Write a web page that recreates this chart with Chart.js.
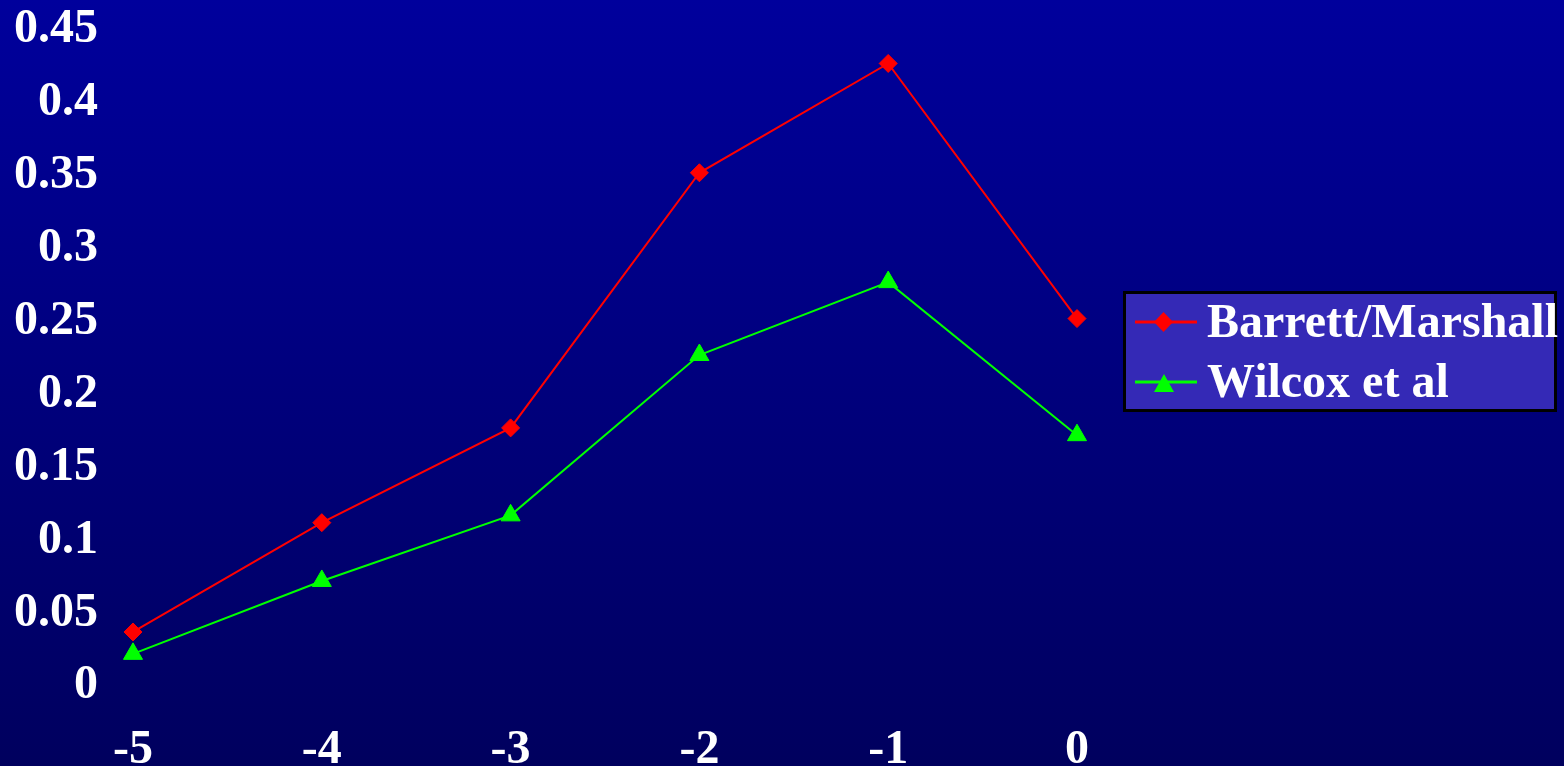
<!DOCTYPE html>
<html>
<head>
<meta charset="utf-8">
<script src="https://cdn.jsdelivr.net/npm/chart.js@4.4.1/dist/chart.umd.min.js"></script>
<style>
	html, body { margin: 0; padding: 0; overflow: hidden; background: #00007c; }
	#contenedor { width: 1564px; height: 766px; }
</style>
</head>
<body>
<div id="contenedor"><canvas id="grafica"></canvas></div>
<script>
const anios = [-5, -4, -3, -2, -1, 0];
const barrettMarshall = [0.035, 0.11, 0.175, 0.35, 0.425, 0.25];
const wilcox = [0.02, 0.07, 0.115, 0.225, 0.275, 0.17];
const etiquetas = ['Barrett/Marshall', 'Wilcox et al'];

const fuente = { family: '"Liberation Serif", "Times New Roman", serif', size: 48, weight: 'bold' };

// fondo degradado azul
const fondo = {
	id: 'fondo',
	beforeDraw(chart) {
		const ctx = chart.ctx;
		const grad = ctx.createLinearGradient(0, 0, 0, chart.height);
		grad.addColorStop(0, '#00009c');
		grad.addColorStop(1, '#00005e');
		ctx.save();
		ctx.fillStyle = grad;
		ctx.fillRect(0, 0, chart.width, chart.height);
		ctx.restore();
	},
};

// leyenda con linea y marcador
const leyenda = {
	id: 'leyenda',
	afterDraw(chart) {
		const ctx = chart.ctx;
		ctx.save();
		ctx.fillStyle = '#3429b6';
		ctx.fillRect(1123, 291, 434, 121);
		ctx.lineWidth = 3;
		ctx.strokeStyle = '#000000';
		ctx.strokeRect(1124.5, 292.5, 431, 118);

		const filas = [322, 382];
		chart.data.datasets.forEach((ds, i) => {
			const y = filas[i];
			ctx.strokeStyle = ds.borderColor;
			ctx.lineWidth = 3;
			ctx.beginPath();
			ctx.moveTo(1135, y);
			ctx.lineTo(1197, y);
			ctx.stroke();

			ctx.fillStyle = ds.borderColor;
			ctx.beginPath();
			if (ds.pointStyle === 'rectRot') {
				ctx.moveTo(1163.5, y - 10);
				ctx.lineTo(1173, y);
				ctx.lineTo(1163.5, y + 10);
				ctx.lineTo(1154, y);
			} else {
				ctx.moveTo(1164, y - 8);
				ctx.lineTo(1174, y + 10);
				ctx.lineTo(1154, y + 10);
			}
			ctx.closePath();
			ctx.fill();

			ctx.fillStyle = '#ffffff';
			ctx.font = 'bold 48px "Liberation Serif", "Times New Roman", serif';
			ctx.textBaseline = 'alphabetic';
			ctx.fillText(ds.label, 1207, y + 15);
		});
		ctx.restore();
	},
};

const sinRelleno = (scale) => {
	scale.paddingTop = 0;
	scale.paddingBottom = 0;
	scale.paddingLeft = 0;
	scale.paddingRight = 0;
};

const ctx = document.querySelector('#grafica');
const chart = new Chart(ctx, {
	type: 'line',
	data: {
		datasets: [
			{
				label: etiquetas[0],
				data: anios.map((a, i) => ({ x: a, y: barrettMarshall[i] })),
				borderColor: '#ff0000',
				backgroundColor: '#ff0000',
				borderWidth: 2,
				pointStyle: 'rectRot',
				pointRadius: 9,
				pointBorderWidth: 1,
				tension: 0,
				clip: false,
			},
			{
				label: etiquetas[1],
				data: anios.map((a, i) => ({ x: a, y: wilcox[i] })),
				borderColor: '#00ff00',
				backgroundColor: '#00ff00',
				borderWidth: 2,
				pointStyle: 'triangle',
				pointRadius: 11,
				pointBorderWidth: 1,
				tension: 0,
				clip: false,
			},
		],
	},
	options: {
		responsive: true,
		maintainAspectRatio: false,
		animation: false,
		layout: { padding: { top: 27, right: 487, left: 0, bottom: 0 } },
		plugins: {
			legend: { display: false },
			tooltip: { enabled: false },
		},
		scales: {
			x: {
				type: 'linear',
				min: -5,
				max: 0,
				grid: { display: false, drawTicks: false },
				border: { display: false },
				ticks: { stepSize: 1, color: '#ffffff', font: fuente, padding: 39, maxRotation: 0 },
				afterFit: (scale) => { scale.height = 83; sinRelleno(scale); },
			},
			y: {
				min: 0,
				max: 0.45,
				grid: { display: false, drawTicks: false },
				border: { display: false },
				ticks: {
					stepSize: 0.05,
					color: '#ffffff',
					font: fuente,
					padding: 35,
					labelOffset: 3,
					callback: (valor) => String(Number(valor.toFixed(2))),
				},
				afterFit: (scale) => { scale.width = 133; sinRelleno(scale); },
			},
		},
	},
	plugins: [fondo, leyenda],
});
</script>
</body>
</html>
